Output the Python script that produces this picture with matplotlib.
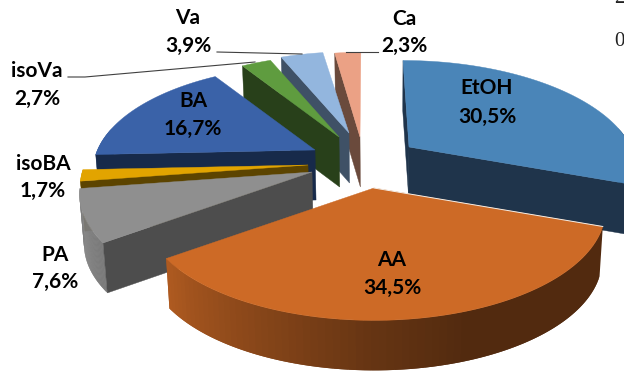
import matplotlib
matplotlib.use("Agg")
import matplotlib.pyplot as plt
import numpy as np

plt.rcParams['font.family'] = ['Lato', 'DejaVu Sans']

# Datos del grafico (en sentido horario desde arriba)
etiquetas = ['EtOH', 'AA', 'PA', 'isoBA', 'BA', 'isoVa', 'Va', 'Ca']
valores = [30.5, 34.5, 7.6, 1.7, 16.7, 2.7, 3.9, 2.3]

# Colores de la cara superior y de las paredes
cara = ['#4a85b8', '#cd6a26', '#8f8f8f', '#e2a400', '#3a62a8', '#5f9c3f', '#93b6de', '#eba185']
pared = ['#1f344b', '#522a10', '#4d4d4d', '#5c4400', '#172a4a', '#28401a', '#3f5166', '#6a4a3c']

# Vertice de cada porcion separada, su escala y su inclinacion hacia atras
vx = [409, 374, 312, 308, 315, 339, 349, 360]
vy = [147, 188, 172, 165, 150, 137, 133, 137]
escala = [0.97, 0.99, 0.995, 0.975, 0.95, 0.92, 0.91, 0.95]
inclina = [-6, 0, 0, 0, 0, 0, 0, 2]

# Orden de dibujo, de atras hacia adelante
orden = [0, 7, 6, 5, 4, 3, 2, 1]

# Posicion de los textos: nombre y porcentaje
texto_x = [487, 392, 55, 43, 193, 37, 188, 404]
texto_y1 = [88, 260, 255, 164, 101, 71, 18, 19]
texto_y2 = [117, 288, 282, 191, 129, 99, 46, 46]

# Lineas guia
guias = [[(217, 52), (302, 54)], [(68, 77), (85, 77), (255, 62)], [(346, 52), (378, 52)]]

RX = 229.0      # semieje horizontal
RY = 107.0      # semieje vertical
K = 0.2         # perspectiva
PROF = 50.0     # grosor del pastel
FUGA = 385.0    # x del punto de fuga
REDUC = 0.985   # reduccion de la cara inferior


def punto(i, ang):
    t = np.radians(ang)
    s = 1 / (1 + K * np.cos(t))
    x = vx[i] + escala[i] * RX * np.sin(t) * s + inclina[i] * max(np.cos(t), 0)
    y = vy[i] - escala[i] * RY * np.cos(t) * s
    return x, y


def abajo(x, y):
    return FUGA + (x - FUGA) * REDUC, y + PROF


def mezcla_rim(ang):
    return np.interp(ang, [110, 160, 180, 195, 234, 270], [0.4, 0.4, 0.5, 0.6, 0.86, 0.9])


fig = plt.figure(figsize=(6.24, 3.75), dpi=100)
ax = fig.add_axes([0, 0, 1, 1])
ax.set_xlim(0, 624)
ax.set_ylim(375, 0)
ax.axis('off')

fin = np.cumsum(valores) * 3.6
ini = fin - np.array(valores) * 3.6

for i in orden:
    a0, a1 = ini[i], fin[i]
    angs = np.linspace(a0, a1, 80)
    arco = [punto(i, a) for a in angs]
    cx, cy = vx[i], vy[i]

    # Pared exterior con degradado, cada franja pisa a la siguiente
    base = np.array(matplotlib.colors.to_rgb(cara[i]))
    for j in range(len(angs) - 1):
        if np.cos(np.radians(angs[j])) > 0.2:
            continue
        p0, p1 = arco[j], arco[min(j + 2, len(arco) - 1)]
        q0, q1 = abajo(*p0), abajo(*p1)
        col = base * mezcla_rim(angs[j])
        ax.fill([p0[0], p1[0], q1[0], q0[0]], [p0[1], p1[1], q1[1], q0[1]], color=col, lw=0)

    # Pared radial inicial o final cuando se ve
    if np.sin(np.radians(a0)) <= 0.001:
        p = punto(i, a0)
        q = abajo(*p)
        r = abajo(cx, cy)
        ax.fill([cx, p[0], q[0], r[0]], [cy, p[1], q[1], r[1]], color=pared[i], lw=0.3)
    if np.sin(np.radians(a1)) > 0.001:
        p = punto(i, a1)
        q = abajo(*p)
        r = abajo(cx, cy)
        ax.fill([cx, p[0], q[0], r[0]], [cy, p[1], q[1], r[1]], color=pared[i], lw=0.3)

    # Cara superior
    xs = [cx] + [p[0] for p in arco]
    ys = [cy] + [p[1] for p in arco]
    ax.fill(xs, ys, color=cara[i], lw=0.3)

    # Borde claro de AA contra la pared de EtOH
    if etiquetas[i] == 'AA':
        ax.plot([arco[0][0], cx], [arco[0][1], cy], color='#f4efe9', lw=0.7)

# Lineas guia
for g in guias:
    ax.plot([p[0] for p in g], [p[1] for p in g], color='#404040', lw=0.8)

# Etiquetas
for i in range(len(etiquetas)):
    porc = '{:.1f}%'.format(valores[i]).replace('.', ',')
    ax.text(texto_x[i], texto_y1[i], etiquetas[i], ha='center', va='center',
            fontsize=15, fontweight='bold', color='black')
    ax.text(texto_x[i], texto_y2[i], porc, ha='center', va='center',
            fontsize=15, fontweight='bold', color='black')

# Texto cortado en el borde derecho
ax.text(614, 3, '2', family='Liberation Serif', fontsize=15, color='#222222', va='baseline')
ax.text(614, 46, '0', family='Liberation Serif', fontsize=15, color='#222222', va='baseline')

fig.savefig('out.png', dpi=100)
